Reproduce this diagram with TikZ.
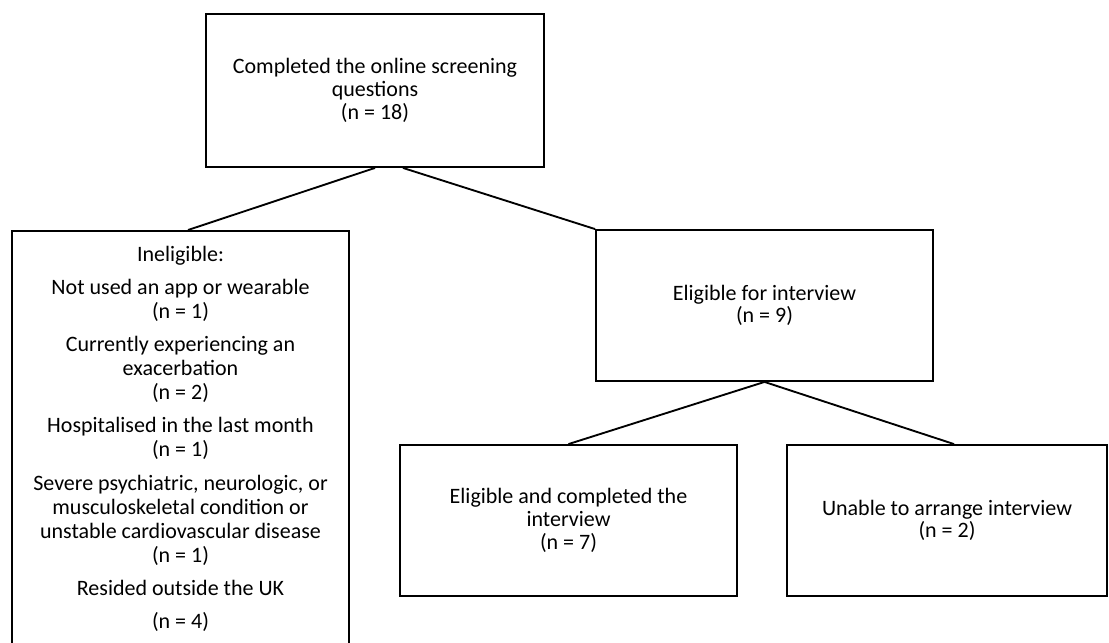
\documentclass[tikz,border=0pt]{standalone}
\usepackage{fontspec}
\setmainfont{Carlito}
\usetikzlibrary{positioning,calc}

\tikzset{
  box/.style={draw, line width=1.4pt, align=center, inner sep=0pt,
    font=\fontsize{16.5}{17}\selectfont},
  link/.style={line width=1.4pt}
}

\begin{document}
\begin{tikzpicture}[x=0.75pt,y=-0.75pt]

  % Frame
  \useasboundingbox (0,0) rectangle (1109,642);
  \clip (0,0) rectangle (1109,642);

  % Boxes
  \node[box, minimum width=253.5pt, minimum height=114.75pt] (screened) at (375,90.5)
    {Completed the online screening\\questions\\(n = 18)};
  \node[box, minimum width=252.75pt, minimum height=113.25pt] (eligible) at (764.5,305.5)
    {Eligible for interview\\(n = 9)};
  \node[box, minimum width=252.75pt, minimum height=113.25pt] (done) at (568.5,520.5)
    {Eligible and completed the\\interview\\(n = 7)};
  \node[box, minimum width=240pt, minimum height=113.25pt] (unable) at (947,520.5)
    {Unable to arrange interview\\(n = 2)};

  % Ineligible box (runs off the page)
  \node[box, minimum width=252.75pt, minimum height=330pt, anchor=north] (inel) at (180.5,230) {};
  \node[font=\fontsize{16.5}{18}\selectfont, align=center, inner sep=0pt, anchor=north]
    (ineltext) at (180.5,246)
    {Ineligible:\\[6.5pt]
     Not used an app or wearable\\(n = 1)\\[7pt]
     Currently experiencing an\\exacerbation\\(n = 2)\\[7pt]
     Hospitalised in the last month\\(n = 1)\\[7pt]
     Severe psychiatric, neurologic, or\\musculoskeletal condition or\\unstable cardiovascular disease\\(n = 1)\\[7pt]
     Resided outside the UK\\[7pt]
     (n = 4)};

  % Connectors
  \coordinate (inelTop) at ($(inel.north)+(7.5,0)$);
  \draw[link] (screened.south) -- (inelTop);
  \draw[link] ($(screened.south)+(28,0)$) -- (eligible.north west);
  \draw[link] (eligible.south) -- (done.north);
  \draw[link] (eligible.south) -- ($(unable.north)+(7,0)$);

\end{tikzpicture}
\end{document}
